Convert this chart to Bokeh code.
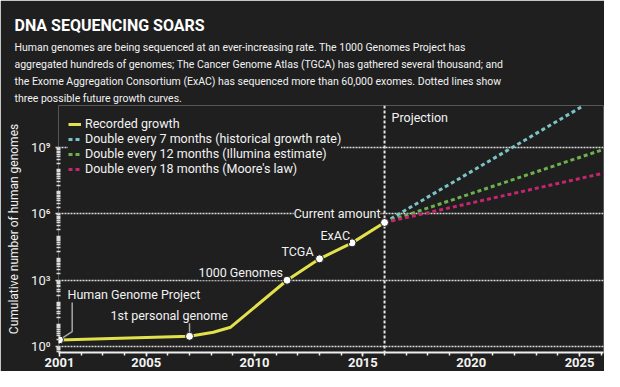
from bokeh.plotting import figure
from bokeh.models import Label, Span, FixedTicker, Legend, LegendItem, Title
from bokeh.embed import file_html
from bokeh.resources import INLINE

# ---------------- data ----------------
rec_years = [2001.0, 2007.0, 2008.1, 2008.9, 2011.5, 2013.0, 2014.5, 2016.0]
rec_genomes = [2, 2.9, 4.4, 7.5, 1000, 9300, 49000, 410000]

milestone_names = ["Human Genome Project", "1st personal genome", "1000 Genomes",
                   "TCGA", "ExAC", "Current amount"]
milestone_years = [2001.0, 2007.0, 2011.5, 2013.0, 2014.5, 2016.0]
milestone_genomes = [2, 2.9, 1000, 9300, 49000, 410000]

proj_years_7 = [2016.0, 2025.07]
proj_genomes_7 = [410000, 6.8e10]
proj_years_12 = [2016.0, 2026.33]
proj_genomes_12 = [410000, 9.8e8]
proj_years_18 = [2016.0, 2026.33]
proj_genomes_18 = [410000, 7.8e7]

series_labels = ["Recorded growth",
                 "Double every 7 months (historical growth rate)",
                 "Double every 12 months (Illumina estimate)",
                 "Double every 18 months (Moore's law)"]

x_ticks = [2001, 2005, 2010, 2015, 2020, 2025]
x_minor = list(range(2002, 2027))
y_ticks = [1, 1e3, 1e6, 1e9]
y_tick_labels = ["10\u2070", "10\u00b3", "10\u2076", "10\u2079"]

title_text = "DNA SEQUENCING SOARS"
subtitle_lines = [
    "Human genomes are being sequenced at an ever-increasing rate. The 1000 Genomes Project has",
    "aggregated hundreds of genomes; The Cancer Genome Atlas (TGCA) has gathered several thousand; and",
    "the Exome Aggregation Consortium (ExAC) has sequenced more than 60,000 exomes. Dotted lines show",
    "three possible future growth curves.",
]

# ---------------- style ----------------
BG = "#1f1f1f"
TXT = "#f2f2f2"
GRID = "#dcdcdc"
YEL = "#e2e14b"
TEAL = "#7cc3c5"
GREEN = "#6db14f"
PINK = "#c4256f"
FONT = "Roboto"

X0, X1 = 2000.954, 2026.104
LY0, LY1 = -0.27, 10.905
FW, FH = 545, 247
PXY = FW / (X1 - X0)
PXD = FH / (LY1 - LY0)

p = figure(width=604, height=371, x_range=(X0, X1), y_range=(10 ** LY0, 10 ** LY1),
           y_axis_type="log", output_backend="svg", toolbar_location=None, title=None,
           min_border_left=58, min_border_right=1, min_border_top=105, min_border_bottom=19,
           background_fill_color=BG, border_fill_color=BG, outline_line_color=None)

# axes
xa = p.xaxis[0]
xa.ticker = FixedTicker(ticks=x_ticks, minor_ticks=x_minor)
xa.axis_line_color = "#eeeeee"
xa.axis_line_width = 2
xa.major_tick_line_color = "#eeeeee"
xa.major_tick_line_width = 1.5
xa.major_tick_in = 0
xa.major_tick_out = 4
xa.minor_tick_line_color = "#eeeeee"
xa.minor_tick_line_width = 1.5
xa.minor_tick_in = 0
xa.minor_tick_out = 3
xa.major_label_text_color = TXT
xa.major_label_text_font = FONT
xa.major_label_text_font_style = "bold"
xa.major_label_text_font_size = "13px"
xa.major_label_standoff = 1

y_minor = []
for e in range(-1, 9):
    for k in range(1, 10):
        v = k * 10.0 ** e
        if v not in y_ticks:
            y_minor.append(v)
ya = p.yaxis[0]
ya.ticker = FixedTicker(ticks=y_ticks, minor_ticks=y_minor)
ya.major_label_overrides = {t: s for t, s in zip(y_ticks, y_tick_labels)}
ya.axis_line_color = None
ya.major_tick_line_color = GRID
ya.major_tick_line_width = 1.6
ya.major_tick_in = 0
ya.major_tick_out = 3
ya.minor_tick_line_color = GRID
ya.minor_tick_line_width = 1.5
ya.minor_tick_in = 2
ya.minor_tick_out = 2
ya.major_label_text_color = TXT
ya.major_label_text_font = FONT
ya.major_label_text_font_size = "13px"
ya.major_label_standoff = 5
ya.axis_label = "Cumulative number of human genomes"
ya.axis_label_text_color = TXT
ya.axis_label_text_font = FONT
ya.axis_label_text_font_style = "normal"
ya.axis_label_text_font_size = "12px"
ya.axis_label_standoff = 7

p.xgrid.visible = False
p.ygrid.ticker = FixedTicker(ticks=y_ticks)
p.ygrid.grid_line_color = GRID
p.ygrid.grid_line_width = 1.6
p.ygrid.grid_line_dash = "2 1"

# projection divider
p.add_layout(Span(location=2016, dimension="height", line_color="#e6e6e6",
                  line_width=2, line_dash="3 2", level="underlay"))

# lines
r7 = p.line(proj_years_7, proj_genomes_7, line_color=TEAL, line_width=3, line_dash="4 3")
r12 = p.line(proj_years_12, proj_genomes_12, line_color=GREEN, line_width=3, line_dash="4 3")
r18 = p.line(proj_years_18, proj_genomes_18, line_color=PINK, line_width=3, line_dash="4 3")
rrec = p.line(rec_years, rec_genomes, line_color=YEL, line_width=3)

# leader lines (derived from milestone points + pixel offsets)
hx, hy = milestone_years[0], milestone_genomes[0]
p.line([hx, hx + 12.7 / PXY, hx + 12.7 / PXY],
       [hy, hy * 10 ** (8.3 / PXD), hy * 10 ** (38 / PXD)], line_color="#a8a8a8", line_width=1.5)
gx, gy = milestone_years[1], milestone_genomes[1]
p.line([gx, gx], [gy, gy * 10 ** (13 / PXD)], line_color="#a8a8a8", line_width=1.5)

p.scatter(milestone_years, milestone_genomes, size=8, fill_color="white",
          line_color=BG, line_width=1)

# legend
legend = Legend(items=[LegendItem(label=series_labels[0], renderers=[rrec]),
                       LegendItem(label=series_labels[1], renderers=[r7]),
                       LegendItem(label=series_labels[2], renderers=[r12]),
                       LegendItem(label=series_labels[3], renderers=[r18])],
                location=(10, 176), background_fill_color=BG, background_fill_alpha=1,
                border_line_color=None, label_text_color=TXT, label_text_font=FONT,
                label_text_font_size="12.5px", glyph_width=13, glyph_height=14,
                label_height=14, label_standoff=4, spacing=0, padding=4, margin=0)
p.add_layout(legend)

# annotations on milestones
def mlabel(i, dx, dy, align):
    return Label(x=milestone_years[i], y=milestone_genomes[i], x_offset=dx, y_offset=dy,
                 text=milestone_names[i], text_color=TXT, text_font=FONT,
                 text_font_size="12.5px", text_align=align, text_baseline="middle",
                 background_fill_color=BG, background_fill_alpha=1)

p.add_layout(mlabel(0, 8, 45, "left"))
p.add_layout(mlabel(1, -79, 21, "left"))
p.add_layout(mlabel(2, -4, 7.5, "right"))
p.add_layout(mlabel(3, -6, 7, "right"))
p.add_layout(mlabel(4, -2, 7, "right"))
cur = Label(x=milestone_years[5], y=1e6, x_offset=-4, text=milestone_names[5],
            text_color=TXT, text_font=FONT, text_font_size="12.5px", text_align="right",
            text_baseline="middle", background_fill_color=BG, background_fill_alpha=1)
p.add_layout(cur)

p.add_layout(Label(x=2016, x_offset=7, y=235, y_units="screen", text="Projection",
                   text_color=TXT, text_font=FONT, text_font_size="12.5px",
                   text_baseline="middle"))

# title and subtitle lines, stacked above the frame (first added = closest to frame)
for line in reversed(subtitle_lines):
    p.add_layout(Title(text=line, align="left", offset=-44, standoff=2,
                       text_font=FONT, text_font_size="10.5px", text_font_style="normal",
                       text_color=TXT), "above")
p.add_layout(Title(text=title_text, align="left", offset=-44, standoff=5,
                   text_font=FONT, text_font_size="16px", text_font_style="bold",
                   text_color="#ffffff"), "above")

open("out.html", "w").write(file_html(p, INLINE))
